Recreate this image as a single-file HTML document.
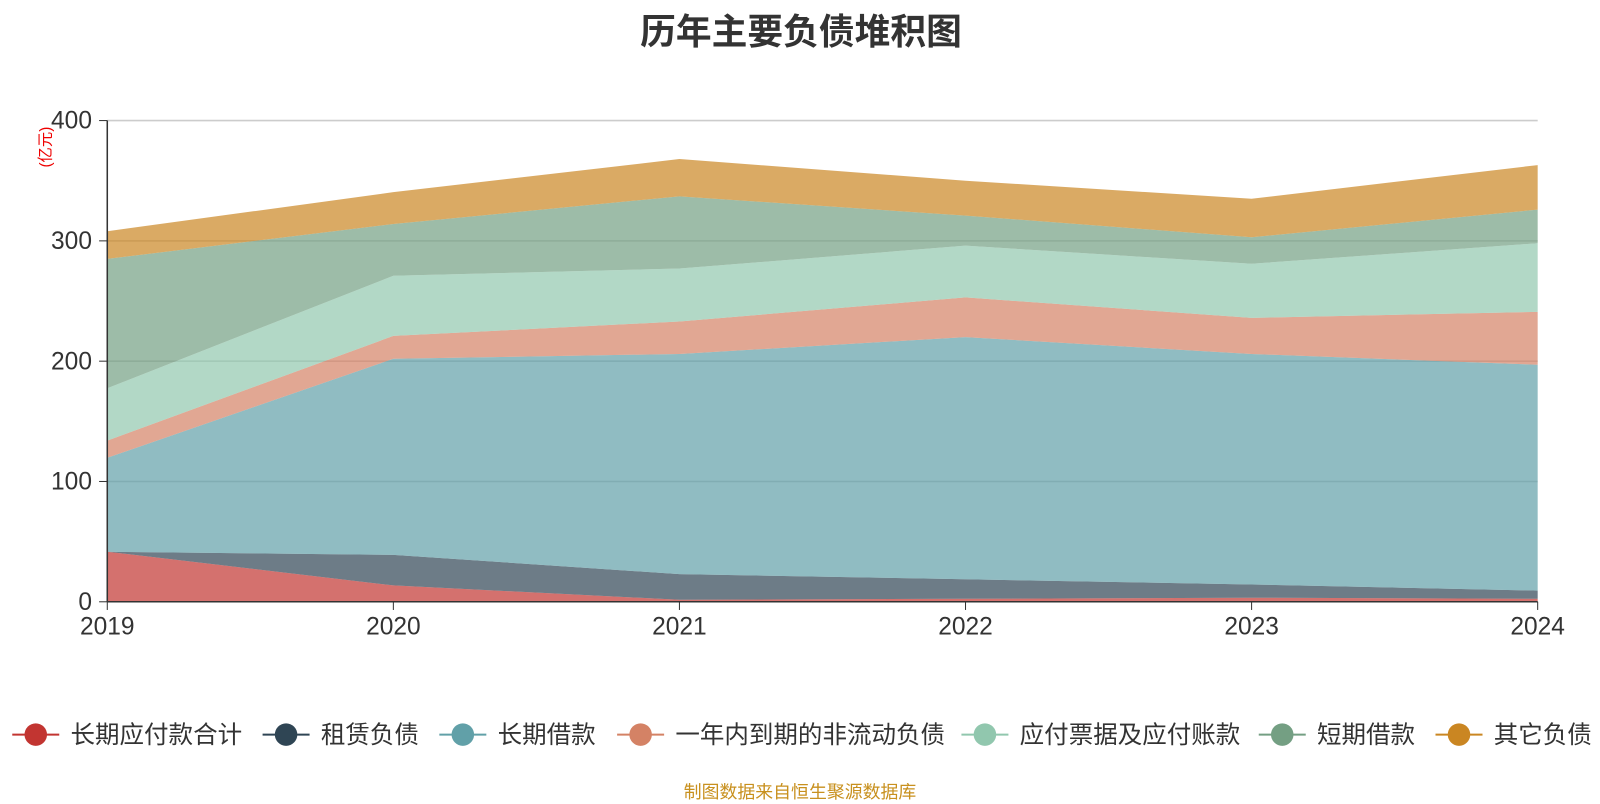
<!DOCTYPE html>
<html><head><meta charset="utf-8">
<style>
body{margin:0;width:1600px;height:800px;background:#fff;font-family:"Liberation Sans","Noto Sans CJK SC",sans-serif;overflow:hidden;position:relative}
#wrap{position:absolute;left:0;top:0;width:1566px;height:783px;transform:scale(1.02171);transform-origin:0 0}
.t{position:absolute;white-space:nowrap}
</style></head><body>
<div id="wrap">
<div class="t" style="left:0;width:1568px;text-align:center;top:3px;font-size:35px;font-weight:bold;color:#333">历年主要负债堆积图</div>
<div class="t" style="left:44px;top:144px;font-size:15px;color:#e00;transform:translate(-50%,-50%) rotate(-90deg)">(亿元)</div>
<svg id="c" width="1566" height="783" style="position:absolute;left:0;top:0"></svg>
<div class="t" style="left:0;width:1566px;text-align:center;top:762px;font-size:17.5px;color:#c8901e">制图数据来自恒生聚源数据库</div>
</div>
<script>
const years=["2019","2020","2021","2022","2023","2024"];
const seriesNames=["长期应付款合计","租赁负债","长期借款","一年内到期的非流动负债","应付票据及应付账款","短期借款","其它负债"];
const colors=["#c23531","#2f4554","#61a0a8","#d48265","#91c7ae","#749f83","#ca8622"];
const s1=[41.6,13.6,1.7,2.5,3.4,2.5];
const s2=[0,25.4,21.3,16.2,11,6.8];
const s3=[78.1,163,183,201.3,191.6,187.7];
const s4=[14.3,19,27,33,30,44];
const s5=[43.5,50,44,43,45,57];
const s6=[107.5,43,60,25,22,28];
const s7=[23,26.5,31,29,32,37];
const yTicks=[0,100,200,300,400];
const series=[s1,s2,s3,s4,s5,s6,s7];
const NS="http://www.w3.org/2000/svg",svg=document.getElementById('c');
const x=i=>105+i*280, y=v=>589-v*(471/400);
function mk(t,a,p){const e=document.createElementNS(NS,t);for(const k in a)e.setAttribute(k,a[k]);(p||svg).appendChild(e);return e;}
yTicks.forEach(v=>{
 if(v>0){const g=mk('line',{x1:105,x2:1505,y1:y(v),y2:y(v),stroke:'#ccc','stroke-width':1.5});
 
 }
 const t=mk('text',{x:90,y:y(v)+8,'text-anchor':'end','font-size':24,fill:'#333'});t.textContent=v;
 
 
 mk('line',{x1:97,x2:105,y1:y(v),y2:y(v),stroke:'#333'});
});
let base=years.map(()=>0);
series.forEach((s,k)=>{
 const top=base.map((b,i)=>b+s[i]);
 let d='M'+years.map((_,i)=>x(i)+','+y(top[i])).join('L');
 d+='L'+years.map((_,i)=>x(5-i)+','+y(base[5-i])).join('L')+'Z';
 const p=mk('path',{d:d,fill:colors[k],'fill-opacity':0.7});
 
 
 base=top;
});
mk('line',{x1:105,x2:105,y1:118,y2:589,stroke:'#333','stroke-width':1.5});
mk('line',{x1:105,x2:1505,y1:589,y2:589,stroke:'#333','stroke-width':1.5});
years.forEach((yr,i)=>{
 mk('line',{x1:x(i),x2:x(i),y1:589,y2:597,stroke:'#333'});
 const t=mk('text',{x:x(i),y:621,'text-anchor':'middle','font-size':24,fill:'#333'});t.textContent=yr;
 
 
});
const lx=[12,257,430,604,941,1232,1405];
seriesNames.forEach((n,k)=>{
 const g=mk('g',{});
 
 
 mk('line',{x1:lx[k],x2:lx[k]+46,y1:719,y2:719,stroke:colors[k],'stroke-width':2},g);
 mk('circle',{cx:lx[k]+23,cy:719,r:11,fill:colors[k]},g);
 const t=mk('text',{x:lx[k]+57,y:727,'font-size':24,fill:'#333'},g);t.textContent=n;
});
</script>
</body></html>
